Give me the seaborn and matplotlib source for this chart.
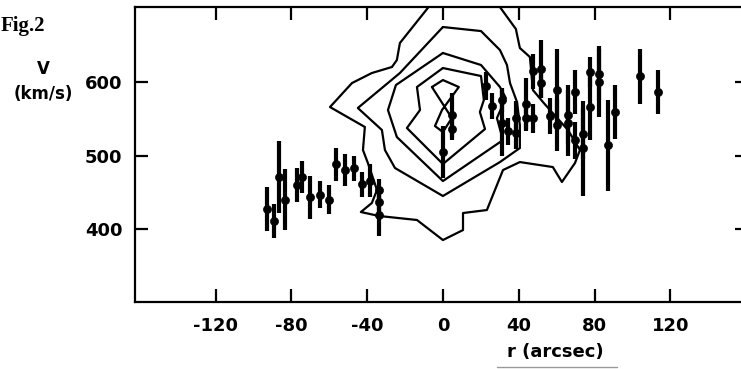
import numpy as np
import pandas as pd
import matplotlib
matplotlib.use("Agg")
import matplotlib.pyplot as plt
from matplotlib import font_manager
from matplotlib.lines import Line2D
import seaborn as sns

# ---------------- data ----------------
r_pts = [-92.7, -89.0, -86.7, -83.4, -77.2, -74.2, -70.0, -64.9, -60.2, -56.3,
         -51.7, -46.8, -42.7, -38.5, -33.8, -33.8, -33.8,
         0.0, 4.7, 4.7, 22.5, 25.9, 31.3, 31.3, 34.5, 38.8, 38.8, 43.7, 43.7,
         47.3, 47.3, 52.0, 52.0, 56.5, 60.0, 60.0, 65.8, 65.8, 69.7, 69.7,
         74.0, 74.0, 77.6, 77.6, 82.3, 82.3, 87.2, 90.8, 104.0, 113.6]
v_pts = [427, 411, 471, 440, 460, 471, 443, 447, 440, 488,
         480, 483, 461, 466, 453, 437, 419,
         505, 555, 537, 595, 568, 576, 544, 533, 551, 531, 571, 551,
         615, 551, 618, 599, 554, 590, 542, 556, 544, 587, 521,
         530, 510, 614, 567, 611, 601, 514, 560, 608, 587]
v_err = [30, 23, 49, 42, 23, 22, 29, 18, 20, 22,
         22, 17, 17, 22, 15, 15, 28,
         35, 30, 15, 19, 18, 16, 45, 18, 23, 22, 35, 18,
         24, 20, 40, 20, 24, 55, 35, 40, 45, 30, 25,
         35, 65, 20, 45, 35, 48, 62, 37, 38, 30]

# contour polylines (r in arcsec, V in km/s)
c1_r = [-5.3, -22.7, -24.3, -26.9, -37.5, -48.0, -59.6, -41.2, -42.2, -39.6,
        -36.9, -34.8, -37.5, -43.3, -33.8, -13.7, 0.0, 10.6, 10.6, 23.2,
        31.7, 40.6, 58.0, 62.8, 69.7, 72.3, 66.0, 56.5, 52.8, 47.5,
        45.9, 40.6, 38.5, 28.0]
c1_v = [710, 653.6, 630.4, 620.9, 612.7, 599.0, 566.3, 539.1, 507.7, 490.0,
        469.5, 453.2, 435.5, 423.2, 417.8, 412.3, 385.0, 398.6, 421.8, 425.9,
        480.4, 491.3, 484.5, 464.1, 490.0, 507.7, 535.0, 562.2, 573.1, 589.5,
        634.5, 646.8, 672.7, 710]
c2_r = [0.0, 20.1, 30.1, 33.8, 35.4, 39.1, 40.6, 40.6, 30.1, 0.0,
        -25.3, -30.6, -32.2, -44.9, -22.7, 0.0]
c2_v = [675.4, 669.9, 644.0, 623.6, 599.0, 573.1, 541.8, 510.4, 491.3, 445.0,
        483.2, 507.7, 535.0, 565.0, 612.7, 675.4]
c3_r = [0.0, 20.1, 30.1, 33.2, 28.5, 31.7, 0.0, -24.3, -29.0, -24.8, 0.0]
c3_v = [640.0, 623.6, 593.6, 578.6, 551.3, 521.3, 465.4, 525.4, 562.2, 596.3, 640.0]
c4_r = [0.0, 20.1, 21.6, 19.5, 22.2, 0.0, -19.0, -12.1, -13.7, 0.0]
c4_v = [619.5, 608.6, 575.9, 559.5, 536.3, 488.6, 537.7, 562.2, 593.6, 619.5]
c5_r = [-5.8, 0.0, 8.4, -0.5, -4.2, 0.0, 4.7, -5.8]
c5_v = [593.6, 603.1, 593.6, 562.2, 540.4, 532.2, 551.3, 593.6]

x_ticks = [-120, -80, -40, 0, 40, 80, 120]
y_ticks = [400, 500, 600]

# ---------------- style ----------------
sns.set_theme(style="white")
names = {f.name for f in font_manager.fontManager.ttflist}
if "Liberation Sans Narrow" in names:
    lab_font, lab_size = "Liberation Sans Narrow", 17
else:
    lab_font, lab_size = "DejaVu Sans", 13
plt.rcParams["font.family"] = [lab_font, "DejaVu Sans"]

fig = plt.figure(figsize=(7.41, 3.69), dpi=100)
W, H = 741, 369
ax = fig.add_axes([135 / W, (H - 302) / H, (748 - 135) / W, (302 - 7) / H])

# contours
for cr, cv in [(c1_r, c1_v), (c2_r, c2_v), (c3_r, c3_v), (c4_r, c4_v), (c5_r, c5_v)]:
    df = pd.DataFrame({"r": cr, "v": cv})
    sns.lineplot(data=df, x="r", y="v", sort=False, estimator=None,
                 color="black", linewidth=1.6, ax=ax)

# data points with error bars
pts = pd.DataFrame({"r": r_pts, "v": v_pts, "e": v_err})
ax.errorbar(pts["r"], pts["v"], yerr=pts["e"], fmt="none", ecolor="black",
            elinewidth=3.0, capsize=0, zorder=3)
sns.scatterplot(data=pts, x="r", y="v", color="black", s=34, edgecolor="black",
                zorder=4, ax=ax, legend=False)

ax.set_xlim(-162.5, 161)
ax.set_ylim(300.5, 702.7)
ax.set_xticks(x_ticks)
ax.set_xticklabels([str(t) for t in x_ticks])
ax.set_yticks(y_ticks)
ax.set_yticklabels([str(t) for t in y_ticks])
ax.set_xlabel("")
ax.set_ylabel("")
ax.tick_params(axis="both", direction="in", length=9.5, width=1.6, color="black",
               labelsize=lab_size, labelcolor="black", top=True, right=True,
               bottom=True, left=True)
ax.tick_params(axis="x", pad=11)
ax.tick_params(axis="y", pad=9)
for lab in ax.get_xticklabels() + ax.get_yticklabels():
    lab.set_fontweight("bold")
for s in ax.spines.values():
    s.set_color("black")
    s.set_linewidth(1.6)

# labels
fig.text(1 / W, 1 - 31 / H, "Fig.2", family=["Liberation Serif", "DejaVu Serif"],
         weight="bold", size=15, ha="left", va="baseline", color="black")
fig.text(43 / W, 1 - 69 / H, "V", ha="center", va="center", size=lab_size - 1,
         weight="bold", color="black")
fig.text(43 / W, 1 - 94 / H, "(km/s)", ha="center", va="center", size=lab_size - 1,
         weight="bold", color="black")
fig.text(555 / W, 1 - 352 / H, "r (arcsec)", ha="center", va="center",
         size=lab_size, weight="bold", color="black")
fig.add_artist(Line2D([497 / W, 617 / W], [1 - 367 / H, 1 - 367 / H],
                      transform=fig.transFigure, color="0.6", lw=1))

fig.savefig("out.png", dpi=100)
